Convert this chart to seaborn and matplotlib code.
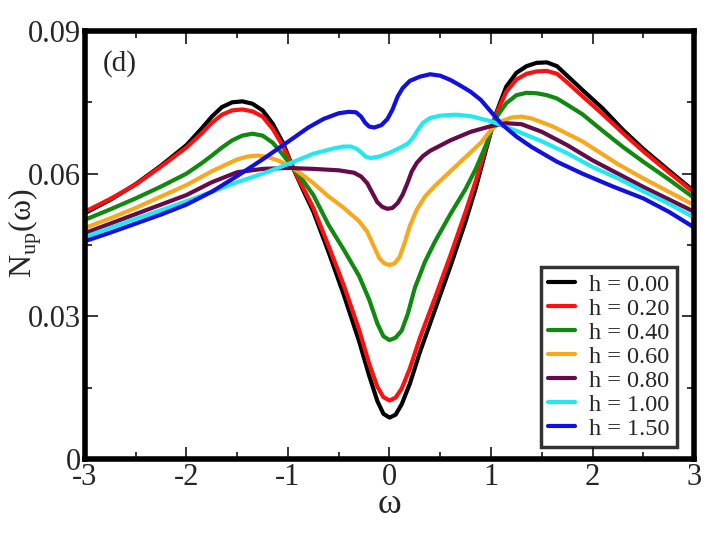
import numpy as np
import pandas as pd
import matplotlib
matplotlib.use("Agg")
import matplotlib.pyplot as plt
import seaborn as sns
from matplotlib.ticker import MultipleLocator

labels = ["h = 0.00", "h = 0.20", "h = 0.40", "h = 0.60", "h = 0.80", "h = 1.00", "h = 1.50"]
colors = ["#000000", "#ff1010", "#0f8a0f", "#f8a81c", "#650a4a", "#22e8f2", "#1010e0"]

x_h000 = [-3, -2.75, -2.5, -2.25, -2, -1.85, -1.75, -1.65, -1.55, -1.45, -1.35, -1.25, -1.15, -1.05, -0.95, -0.85, -0.75, -0.6, -0.45, -0.3, -0.2, -0.12, -0.06, 0, 0.06, 0.12, 0.2, 0.3, 0.45, 0.6, 0.75, 0.85, 0.95, 1.05, 1.15, 1.25, 1.35, 1.45, 1.55, 1.65, 1.75, 1.9, 2.1, 2.3, 2.5, 2.75, 3.0]
y_h000 = [0.0517, 0.0545, 0.0578, 0.0617, 0.0660, 0.0695, 0.0720, 0.0740, 0.0750, 0.0752, 0.0747, 0.0733, 0.0705, 0.0665, 0.0612, 0.0565, 0.0520, 0.0435, 0.0345, 0.0248, 0.0175, 0.0122, 0.0095, 0.0087, 0.0093, 0.0115, 0.0158, 0.0225, 0.0315, 0.0405, 0.0500, 0.0570, 0.0650, 0.0727, 0.0783, 0.0812, 0.0826, 0.0833, 0.0834, 0.0826, 0.0806, 0.0776, 0.0737, 0.0692, 0.0652, 0.0607, 0.0563]

x_h020 = [-3, -2.75, -2.5, -2.25, -2, -1.85, -1.75, -1.65, -1.55, -1.45, -1.35, -1.25, -1.15, -1.05, -0.95, -0.85, -0.75, -0.6, -0.45, -0.3, -0.2, -0.12, -0.06, 0, 0.06, 0.12, 0.2, 0.3, 0.45, 0.6, 0.75, 0.85, 0.95, 1.05, 1.15, 1.25, 1.35, 1.45, 1.55, 1.65, 1.75, 1.9, 2.1, 2.3, 2.5, 2.75, 3.0]
y_h020 = [0.0520, 0.0547, 0.0577, 0.0615, 0.0655, 0.0685, 0.0707, 0.0724, 0.0733, 0.0735, 0.0731, 0.0720, 0.0694, 0.0658, 0.0612, 0.0570, 0.0528, 0.0448, 0.0365, 0.0272, 0.0200, 0.0152, 0.0130, 0.0123, 0.0129, 0.0148, 0.0190, 0.0255, 0.0340, 0.0428, 0.0520, 0.0585, 0.0655, 0.0725, 0.0772, 0.0798, 0.0810, 0.0815, 0.0816, 0.0810, 0.0792, 0.0763, 0.0725, 0.0685, 0.0647, 0.0603, 0.0560]

x_h040 = [-3, -2.75, -2.5, -2.25, -2, -1.85, -1.75, -1.65, -1.55, -1.45, -1.35, -1.25, -1.15, -1.05, -0.95, -0.85, -0.75, -0.6, -0.45, -0.3, -0.2, -0.12, -0.06, 0, 0.06, 0.12, 0.18, 0.25, 0.35, 0.45, 0.6, 0.75, 0.85, 0.95, 1.05, 1.15, 1.25, 1.35, 1.45, 1.55, 1.65, 1.75, 1.9, 2.1, 2.3, 2.5, 2.75, 3.0]
y_h040 = [0.0503, 0.0525, 0.0548, 0.0573, 0.0600, 0.0622, 0.0638, 0.0655, 0.0670, 0.0680, 0.0684, 0.0680, 0.0665, 0.0640, 0.0612, 0.0585, 0.0555, 0.0492, 0.0440, 0.0385, 0.0335, 0.0285, 0.0258, 0.0250, 0.0255, 0.0270, 0.0305, 0.0360, 0.0415, 0.0458, 0.0515, 0.0568, 0.0610, 0.0660, 0.0718, 0.0748, 0.0765, 0.0770, 0.0769, 0.0765, 0.0758, 0.0745, 0.0725, 0.0690, 0.0656, 0.0625, 0.0588, 0.0549]

x_h060 = [-3, -2.75, -2.5, -2.25, -2, -1.75, -1.6, -1.5, -1.4, -1.3, -1.2, -1.1, -1.0, -0.9, -0.75, -0.6, -0.45, -0.3, -0.22, -0.16, -0.1, -0.05, 0, 0.05, 0.1, 0.15, 0.2, 0.27, 0.35, 0.45, 0.6, 0.75, 0.9, 1.0, 1.1, 1.2, 1.3, 1.4, 1.6, 1.9, 2.25, 2.5, 2.75, 3.0]
y_h060 = [0.0486, 0.0506, 0.0528, 0.0552, 0.0576, 0.0605, 0.0620, 0.0630, 0.0636, 0.0638, 0.0635, 0.0628, 0.0618, 0.0604, 0.0580, 0.0552, 0.0528, 0.0500, 0.0478, 0.0450, 0.0422, 0.0411, 0.0408, 0.0411, 0.0425, 0.0455, 0.0490, 0.0525, 0.0552, 0.0575, 0.0605, 0.0635, 0.0665, 0.0692, 0.0710, 0.0718, 0.0720, 0.0716, 0.0700, 0.0668, 0.0620, 0.0590, 0.0562, 0.0534]

x_h080 = [-3, -2.75, -2.5, -2.25, -2, -1.75, -1.5, -1.25, -1.0, -0.75, -0.5, -0.35, -0.28, -0.22, -0.17, -0.12, -0.07, -0.02, 0.03, 0.08, 0.13, 0.18, 0.22, 0.27, 0.33, 0.4, 0.6, 0.8, 1.0, 1.15, 1.3, 1.5, 1.75, 2.0, 2.25, 2.5, 2.75, 3.0]
y_h080 = [0.0475, 0.0495, 0.0515, 0.0535, 0.0555, 0.0582, 0.0603, 0.0610, 0.0612, 0.0610, 0.0607, 0.0602, 0.0594, 0.0580, 0.0560, 0.0540, 0.0530, 0.0526, 0.0528, 0.0538, 0.0556, 0.0582, 0.0605, 0.0623, 0.0637, 0.0648, 0.0670, 0.0688, 0.0700, 0.0706, 0.0704, 0.0688, 0.0660, 0.0628, 0.0600, 0.0572, 0.0546, 0.0520]

x_h100 = [-3, -2.75, -2.5, -2.25, -2, -1.75, -1.5, -1.25, -1.0, -0.75, -0.55, -0.45, -0.38, -0.32, -0.27, -0.23, -0.18, -0.1, 0, 0.1, 0.18, 0.23, 0.28, 0.33, 0.4, 0.5, 0.65, 0.8, 1.0, 1.25, 1.5, 1.75, 2.0, 2.25, 2.5, 2.75, 3.0]
y_h100 = [0.0467, 0.0486, 0.0505, 0.0523, 0.0542, 0.0562, 0.0582, 0.0600, 0.0620, 0.0642, 0.0653, 0.0657, 0.0657, 0.0652, 0.0643, 0.0635, 0.0633, 0.0636, 0.0644, 0.0654, 0.0663, 0.0675, 0.0692, 0.0707, 0.0717, 0.0722, 0.0724, 0.0721, 0.0710, 0.0690, 0.0668, 0.0643, 0.0614, 0.0590, 0.0563, 0.0537, 0.0508]

x_h150 = [-3, -2.75, -2.5, -2.25, -2, -1.75, -1.5, -1.25, -1.0, -0.8, -0.65, -0.5, -0.4, -0.33, -0.28, -0.24, -0.2, -0.15, -0.08, -0.02, 0.03, 0.08, 0.13, 0.2, 0.3, 0.4, 0.5, 0.6, 0.7, 0.8, 0.9, 1.0, 1.1, 1.25, 1.4, 1.65, 1.9, 2.2, 2.5, 2.75, 3.0]
y_h150 = [0.0458, 0.0476, 0.0495, 0.0514, 0.0535, 0.0562, 0.0595, 0.0630, 0.0667, 0.0697, 0.0715, 0.0727, 0.0730, 0.0729, 0.0720, 0.0707, 0.0699, 0.0697, 0.0702, 0.0715, 0.0735, 0.0762, 0.0780, 0.0795, 0.0804, 0.0809, 0.0806, 0.0797, 0.0785, 0.0772, 0.0755, 0.0730, 0.0705, 0.0678, 0.0656, 0.0625, 0.0600, 0.0573, 0.0548, 0.0520, 0.0487]

xs = [x_h000, x_h020, x_h040, x_h060, x_h080, x_h100, x_h150]
ys = [y_h000, y_h020, y_h040, y_h060, y_h080, y_h100, y_h150]

frames = []
for lab, xv, yv in zip(labels, xs, ys):
    frames.append(pd.DataFrame({"omega": xv, "N": yv, "h": lab}))
df = pd.concat(frames, ignore_index=True)

sns.set_style("ticks")
plt.rcParams["font.family"] = ["Liberation Serif", "DejaVu Serif"]
plt.rcParams["mathtext.fontset"] = "custom"
plt.rcParams["mathtext.rm"] = "Liberation Serif"

fig = plt.figure(figsize=(7.26, 5.36), dpi=100)
ax = fig.add_axes([0.117, 0.1437, 0.839, 0.7985])

sns.lineplot(data=df, x="omega", y="N", hue="h", hue_order=labels,
             palette=dict(zip(labels, colors)), estimator=None, sort=False,
             units="h", linewidth=3.0, ax=ax)

ax.set_xlim(-3, 3)
ax.set_ylim(0, 0.09)
xt = [-3, -2, -1, 0, 1, 2, 3]
ax.set_xticks(xt, labels=[str(v) for v in xt])
yt = [0, 0.03, 0.06, 0.09]
ax.set_yticks(yt, labels=["0", "0.03", "0.06", "0.09"])
ax.xaxis.set_minor_locator(MultipleLocator(0.5))
ax.yaxis.set_minor_locator(MultipleLocator(0.015))
ax.tick_params(which="both", direction="in", top=True, right=True, width=1.3, labelsize=22, pad=3)
ax.tick_params(which="major", length=9)
ax.tick_params(which="minor", length=5)
for s in ax.spines.values():
    s.set_linewidth(4)
    s.set_color("black")

ax.set_xlabel("ω", fontsize=26)
ax.xaxis.set_label_coords(0.5, -0.068)
ax.set_ylabel(r"N$_{\mathrm{up}}$(ω)", fontsize=23)
ax.yaxis.set_label_coords(-0.068, 0.528)

ax.text(0.03, 0.955, "(d)", transform=ax.transAxes, fontsize=21, va="top", ha="left")

leg = ax.legend(loc="lower right", bbox_to_anchor=(0.972, 0.028), fontsize=17.5, frameon=True,
                handlelength=1.1, handletextpad=0.6, labelspacing=0.08, borderpad=0.3,
                borderaxespad=0.0, fancybox=False, title=None)
leg.get_frame().set_edgecolor("black")
leg.get_frame().set_linewidth(2.5)
for line in leg.get_lines():
    line.set_linewidth(3)

fig.savefig("out.png", dpi=100)
